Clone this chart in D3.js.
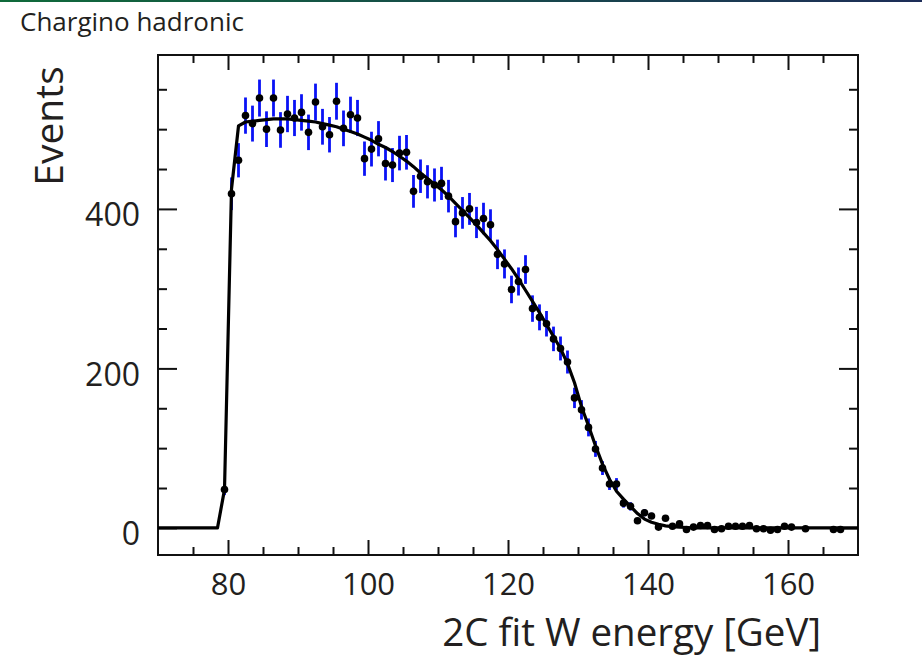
<!DOCTYPE html>
<html>
<head>
<meta charset="utf-8">
<script src="https://cdn.jsdelivr.net/npm/d3@7"></script>
<style>
  html, body { margin: 0; padding: 0; background: #ffffff; }
  svg { display: block; }
  text { font-family: "Open Sans", "Noto Sans", sans-serif; fill: #231f20; }
</style>
</head>
<body>
<svg id="chart" width="922" height="671"></svg>
<script>
// Histogram of the 2C-fit W energy: bin centres (GeV) and event counts
const binCenters = [
  79.5, 80.5, 81.5, 82.5, 83.5, 84.5, 85.5, 86.5, 87.5, 88.5,
  89.5, 90.5, 91.5, 92.5, 93.5, 94.5, 95.5, 96.5, 97.5, 98.5,
  99.5, 100.5, 101.5, 102.5, 103.5, 104.5, 105.5, 106.5, 107.5, 108.5,
  109.5, 110.5, 111.5, 112.5, 113.5, 114.5, 115.5, 116.5, 117.5, 118.5,
  119.5, 120.5, 121.5, 122.5, 123.5, 124.5, 125.5, 126.5, 127.5, 128.5,
  129.5, 130.5, 131.5, 132.5, 133.5, 134.5, 135.5, 136.5, 137.5, 138.5,
  139.5, 140.5, 141.5, 142.5, 143.5, 144.5, 145.5, 146.5, 147.5, 148.5,
  149.5, 150.5, 151.5, 152.5, 153.5, 154.5, 155.5, 156.5, 157.5, 158.5,
  159.5, 160.5, 162.5, 166.5, 167.5
];
const counts = [
  48, 419, 461, 517, 507, 539, 500, 539, 499, 519,
  514, 521, 496, 534, 503, 493, 535, 501, 518, 514,
  463, 475, 488, 457, 455, 470, 471, 422, 441, 434,
  430, 432, 416, 384, 395, 400, 383, 388, 380, 343,
  331, 299, 309, 324, 275, 264, 256, 237, 225, 208,
  163, 148, 126, 99, 75, 55, 55, 31, 27, 9,
  19, 15, 1, 12, 2, 5, -2, 1, 3, 3,
  -2, -1, 2, 2, 2, 3, -1, -1, -3, -2,
  2, 1, -1, -2, -2
];

// Fitted spectrum shape, sampled along the energy axis
const fitX = [
  70, 78.5, 79.5, 80.5, 81.5, 82.5, 83.5, 84.5, 85.5, 86.5,
  87.5, 88.5, 89.5, 90.5, 91.5, 92.5, 93.5, 94.5, 95.5, 96.5,
  97.5, 98.5, 99.5, 100.5, 101.5, 102.5, 103.5, 104.5, 105.5, 106.5,
  107.5, 108.5, 109.5, 110.5, 111.5, 112.5, 113.5, 114.5, 115.5, 116.5,
  117.5, 118.5, 119.5, 120.5, 121.5, 122.5, 123.5, 124.5, 125.5, 126.5,
  127.5, 128.5, 129.5, 130.5, 131.5, 132.5, 133.5, 134.5, 135.5, 136.5,
  137.5, 138.5, 139.5, 140.5, 141.5, 142.5, 143.5, 144.5, 145.5, 146.5,
  170
];
const fitY = [
  0, 0, 48, 425, 504, 509, 510, 511, 512, 513,
  513, 513, 512, 511, 510, 509, 507, 505, 503, 500,
  497, 494, 490, 486, 481, 477, 472, 466, 460, 453,
  445, 438, 431, 424, 416, 407, 398, 389, 380, 370,
  360, 349, 337, 325, 312, 298, 284, 270, 255, 240,
  225, 206, 182, 152, 128, 103, 80, 61, 46, 36,
  27, 18, 11, 7, 4.5, 2.5, 1.5, 1, 0.5, 0,
  0
];

// Axis ticks and labels
const xTickValues = [80, 100, 120, 140, 160];
const xTickLabels = ["80", "100", "120", "140", "160"];
const xMinorTicks = [75, 85, 90, 95, 105, 110, 115, 125, 130, 135, 145, 150, 155, 165];
const yTickValues = [0, 200, 400];
const yTickLabels = ["0", "200", "400"];
const yMinorTicks = [50, 100, 150, 250, 300, 350, 450, 500, 550];

const svg = d3.select("#chart");
const plot = { left: 158, right: 858, top: 55, bottom: 555 };

const x = d3.scaleLinear().domain([70, 170]).range([plot.left, plot.right]);
const y = d3.scaleLinear().domain([-34, 593]).range([plot.bottom, plot.top]);

// thin header rule across the top of the page
const grad = svg.append("defs").append("linearGradient").attr("id", "headerRule");
grad.append("stop").attr("offset", "0%").attr("stop-color", "#0f6a3a");
grad.append("stop").attr("offset", "100%").attr("stop-color", "#1d2d58");
svg.append("rect").attr("x", 0).attr("y", 0).attr("width", 922).attr("height", 2)
  .attr("fill", "url(#headerRule)");

// panel caption
svg.append("text").attr("x", 20).attr("y", 31)
  .attr("font-size", 26).text("Chargino hadronic");

// --- axes (ticks point into the frame on all four sides) ---
function styleAxis(g) {
  g.select(".domain").remove();
  g.selectAll(".tick line").attr("stroke", "#111").attr("stroke-width", 2);
  // unlabelled tick sets keep only their lines
  g.selectAll(".tick text").filter(function () { return !this.textContent; }).remove();
}
const labelOf = (vals, labels) => d => labels[vals.indexOf(d)];

svg.append("g").attr("transform", `translate(0,${plot.bottom})`)
  .call(d3.axisBottom(x).tickValues(xTickValues).tickSize(-15).tickPadding(18)
    .tickFormat(labelOf(xTickValues, xTickLabels)))
  .call(styleAxis)
  .call(g => g.selectAll(".tick text").attr("font-size", 31)
    .attr("font-family", null).attr("fill", "#231f20"));
svg.append("g").attr("transform", `translate(0,${plot.bottom})`)
  .call(d3.axisBottom(x).tickValues(xMinorTicks).tickSize(-8).tickFormat(""))
  .call(styleAxis);
svg.append("g").attr("transform", `translate(0,${plot.top})`)
  .call(d3.axisTop(x).tickValues(xTickValues).tickSize(-15).tickFormat(""))
  .call(styleAxis);
svg.append("g").attr("transform", `translate(0,${plot.top})`)
  .call(d3.axisTop(x).tickValues(xMinorTicks).tickSize(-8).tickFormat(""))
  .call(styleAxis);

svg.append("g").attr("transform", `translate(${plot.left},0)`)
  .call(d3.axisLeft(y).tickValues(yTickValues).tickSize(-19).tickPadding(18)
    .tickFormat(labelOf(yTickValues, yTickLabels)))
  .call(styleAxis)
  .call(g => g.selectAll(".tick text").attr("font-size", 32).attr("dy", "0.52em")
    .attr("font-family", null).attr("fill", "#231f20"));
svg.append("g").attr("transform", `translate(${plot.left},0)`)
  .call(d3.axisLeft(y).tickValues(yMinorTicks).tickSize(-9).tickFormat(""))
  .call(styleAxis);
svg.append("g").attr("transform", `translate(${plot.right},0)`)
  .call(d3.axisRight(y).tickValues(yTickValues).tickSize(-19).tickFormat(""))
  .call(styleAxis);
svg.append("g").attr("transform", `translate(${plot.right},0)`)
  .call(d3.axisRight(y).tickValues(yMinorTicks).tickSize(-9).tickFormat(""))
  .call(styleAxis);

// frame
svg.append("rect")
  .attr("x", plot.left).attr("y", plot.top)
  .attr("width", plot.right - plot.left).attr("height", plot.bottom - plot.top)
  .attr("fill", "none").attr("stroke", "#111").attr("stroke-width", 2);

// axis titles
svg.append("text").attr("x", 821).attr("y", 646)
  .attr("text-anchor", "end").attr("font-size", 38.5)
  .text("2C fit W energy [GeV]");
svg.append("text").attr("transform", "translate(63,126) rotate(-90)")
  .attr("text-anchor", "middle").attr("font-size", 39)
  .text("Events");

// --- data ---
const points = binCenters.map((c, i) => ({ c, n: counts[i], e: Math.sqrt(Math.abs(counts[i])) }));

// statistical error bars
svg.append("g").selectAll("line").data(points).join("line")
  .attr("x1", d => x(d.c)).attr("x2", d => x(d.c))
  .attr("y1", d => y(d.n - d.e)).attr("y2", d => y(d.n + d.e))
  .attr("stroke", "#0a12f5").attr("stroke-width", 2.8);

// markers
svg.append("g").selectAll("circle").data(points).join("circle")
  .attr("cx", d => x(d.c)).attr("cy", d => y(d.n)).attr("r", 3.8)
  .attr("fill", "#000");

// fit curve
const fitPts = fitX.map((v, i) => [v, fitY[i]]);
svg.append("path").datum(fitPts)
  .attr("d", d3.line().x(d => x(d[0])).y(d => y(d[1])))
  .attr("fill", "none").attr("stroke", "#000").attr("stroke-width", 3.2)
  .attr("stroke-linejoin", "round");
</script>
</body>
</html>
